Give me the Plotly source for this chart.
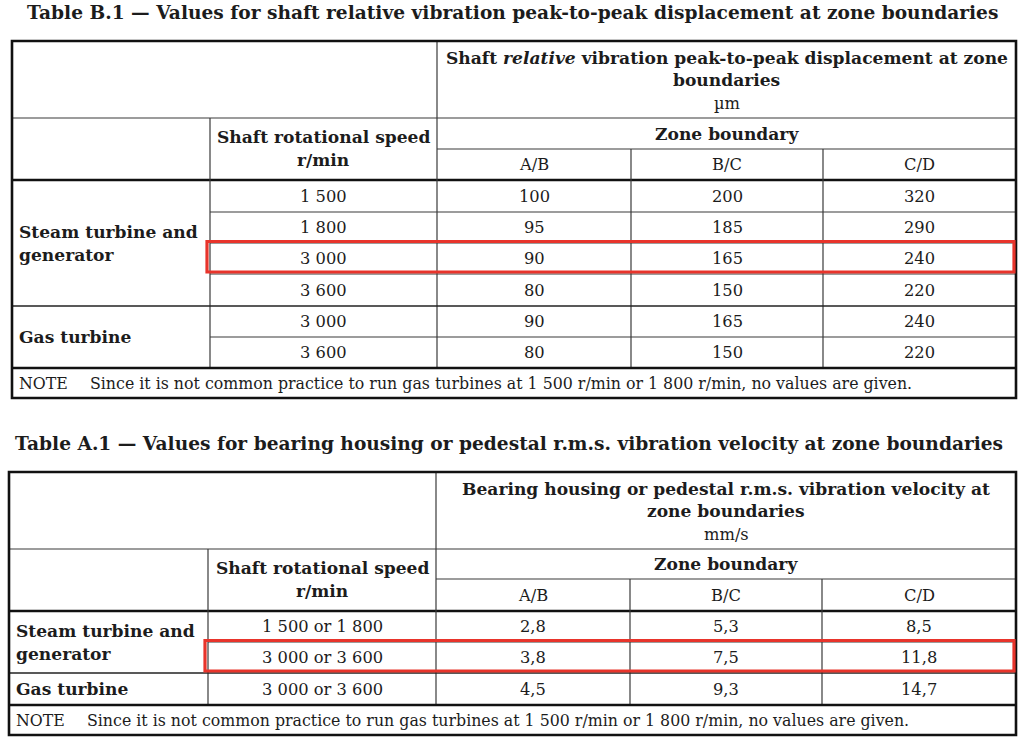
import plotly.graph_objects as go

# ---- data ----
zones = ["A/B", "B/C", "C/D"]

b1_title = "Table B.1 — Values for shaft relative vibration peak-to-peak displacement at zone boundaries"
b1_head = ["Shaft <i>relative</i> vibration peak-to-peak displacement at zone", "boundaries", "µm"]
b1_groups = [["Steam turbine and", "generator"], ["Gas turbine"]]
b1_group_rows = [4, 2]
b1_speeds = ["1 500", "1 800", "3 000", "3 600", "3 000", "3 600"]
b1_ab = [100, 95, 90, 80, 90, 80]
b1_bc = [200, 185, 165, 150, 165, 150]
b1_cd = [320, 290, 240, 220, 240, 220]
b1_marked = 2

a1_title = "Table A.1 — Values for bearing housing or pedestal r.m.s. vibration velocity at zone boundaries"
a1_head = ["Bearing housing or pedestal r.m.s. vibration velocity at", "zone boundaries", "mm/s"]
a1_groups = [["Steam turbine and", "generator"], ["Gas turbine"]]
a1_group_rows = [2, 1]
a1_speeds = ["1 500 or 1 800", "3 000 or 3 600", "3 000 or 3 600"]
a1_ab = [2.8, 3.8, 4.5]
a1_bc = [5.3, 7.5, 9.3]
a1_cd = [8.5, 11.8, 14.7]
a1_marked = 1

note = "Since it is not common practice to run gas turbines at 1 500 r/min or 1 800 r/min, no values are given."

FONT = "DejaVu Serif"
INK = "#1c1c1c"
T_SIZE, B_SIZE, D_SIZE, N_SIZE = 18.6, 17.1, 16.3, 15.8
fig = go.Figure()


def hline(x0, x1, y, w=1.2, c="#3a3a3a"):
    fig.add_shape(type="line", x0=x0, x1=x1, y0=y, y1=y, line=dict(color=c, width=w))


def vline(x, y0, y1, w=1.2, c="#3a3a3a"):
    fig.add_shape(type="line", x0=x, x1=x, y0=y0, y1=y1, line=dict(color=c, width=w))


def text(x, y, s, size=B_SIZE, bold=False, anchor="center"):
    if bold:
        s = "<b>" + s + "</b>"
    fig.add_annotation(x=x, y=y, text=s, showarrow=False, xanchor=anchor, yanchor="middle",
                       font=dict(family=FONT, size=size, color=INK))


def table(title, title_x, title_y, xs, ys, head, groups, group_rows, speeds, cols, marked, fmt):
    # ys: top, head1 bottom, zone row bottom, header bottom, row edges..., note bottom
    top, h1, h2, h3 = ys[:4]
    rows = ys[3:-1]
    bottom = ys[-1]
    note_top = rows[-1]
    text(title_x, title_y, title, size=T_SIZE, bold=True, anchor="left")

    # header
    cx = (xs[2] + xs[5]) / 2
    hy = [top + 17, top + 39, top + 62]
    text(cx, hy[0], head[0], bold=True)
    text(cx, hy[1], head[1], bold=True)
    text(cx, hy[2], head[2], size=D_SIZE)
    text(cx, (h1 + h2) / 2, "Zone boundary", bold=True)
    sx = (xs[1] + xs[2]) / 2
    text(sx, (h1 + h3) / 2 - 12, "Shaft rotational speed", bold=True)
    text(sx, (h1 + h3) / 2 + 11, "r/min", bold=True)
    for i, z in enumerate(zones):
        text((xs[2 + i] + xs[3 + i]) / 2, (h2 + h3) / 2, z, size=D_SIZE)

    # body
    for r, sp in enumerate(speeds):
        yc = (rows[r] + rows[r + 1]) / 2
        text(sx, yc, sp, size=D_SIZE)
        for i, col in enumerate(cols):
            text((xs[2 + i] + xs[3 + i]) / 2, yc, fmt(col[r]), size=D_SIZE)
    r0 = 0
    for g, n in zip(groups, group_rows):
        yc = (rows[r0] + rows[r0 + n]) / 2
        off = (len(g) - 1) * 11.5
        for k, line in enumerate(g):
            text(xs[0] + 5, yc - off + k * 23, line, bold=True, anchor="left")
        r0 += n
    ny = (note_top + bottom) / 2
    text(xs[0] + 5, ny, "NOTE", size=N_SIZE, anchor="left")
    text(xs[0] + 76, ny, note, size=N_SIZE, anchor="left")

    # grid
    hline(xs[0], xs[5], h1)
    hline(xs[2], xs[5], h2)
    hline(xs[0], xs[5], h3, w=2.6, c="#111")
    vline(xs[2], top, note_top)
    vline(xs[1], h1, note_top)
    for i in (3, 4):
        vline(xs[i], h2, note_top)
    r0 = 0
    for n in group_rows:
        for k in range(1, n):
            hline(xs[1], xs[5], rows[r0 + k])
        r0 += n
        if r0 < len(speeds):
            hline(xs[0], xs[5], rows[r0], w=1.6, c="#222")
    hline(xs[0], xs[5], note_top, w=2.4, c="#111")
    fig.add_shape(type="rect", x0=xs[0], x1=xs[5], y0=top, y1=bottom,
                  line=dict(color="#111", width=2.6))
    # highlighted row
    fig.add_shape(type="rect", x0=xs[1] - 3, x1=xs[5] - 2, y0=rows[marked] - 1.5,
                  y1=rows[marked + 1] - 2, line=dict(color="#e8342b", width=3.2))


table(b1_title, 25, 12, [12, 210, 437, 631, 823, 1016],
      [41, 118, 149, 180, 212, 243, 274, 306, 337, 368, 398],
      b1_head, b1_groups, b1_group_rows, b1_speeds, [b1_ab, b1_bc, b1_cd], b1_marked,
      lambda v: str(v))

table(a1_title, 13, 443, [9, 208, 436, 630, 822, 1016],
      [472, 549, 579, 611, 642, 673, 705, 735],
      a1_head, a1_groups, a1_group_rows, a1_speeds, [a1_ab, a1_bc, a1_cd], a1_marked,
      lambda v: ("%.1f" % v).replace(".", ","))

fig.update_xaxes(range=[0, 1024], visible=False, fixedrange=True)
fig.update_yaxes(range=[745, 0], visible=False, fixedrange=True)
fig.update_layout(width=1024, height=745, margin=dict(l=0, r=0, t=0, b=0),
                  plot_bgcolor="white", paper_bgcolor="white", showlegend=False)
# drop the default 8px page margin so page pixels line up with data units
fig.write_html("out.html", config={"displayModeBar": False},
               post_script="document.body.style.margin='0px';")
